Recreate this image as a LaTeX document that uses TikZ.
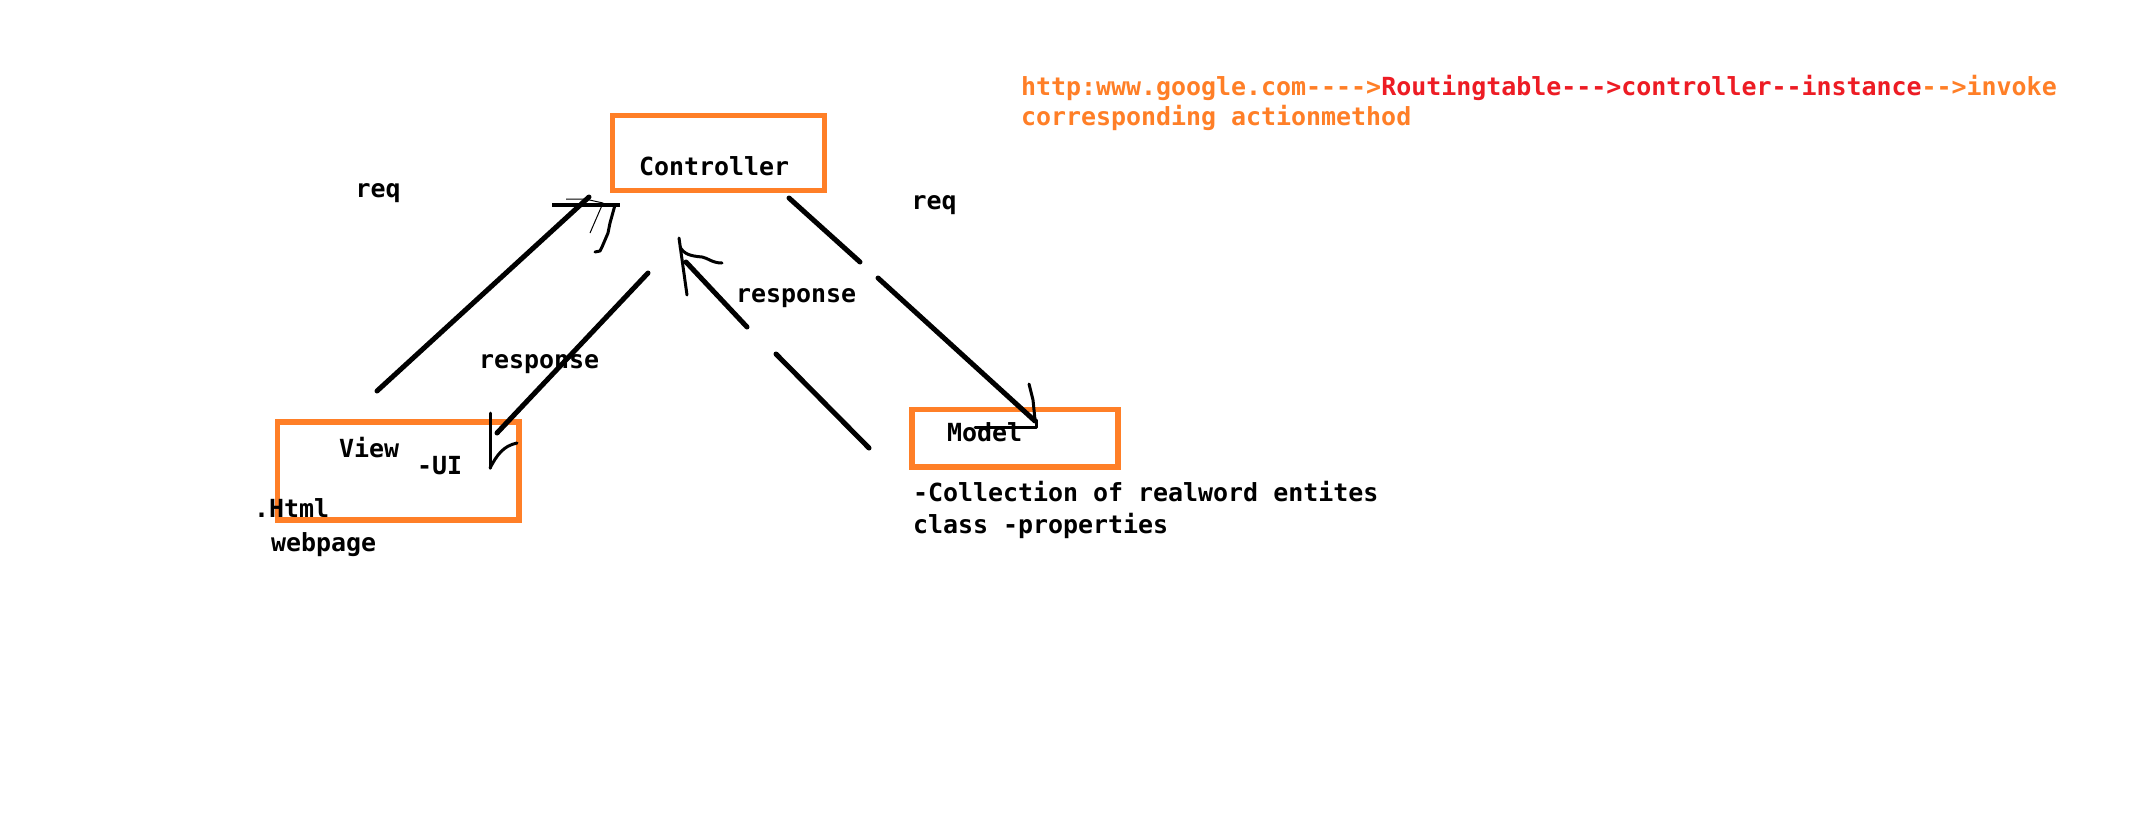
\documentclass[tikz,border=0pt]{standalone}
\usepackage{fontspec}
\newfontfamily\consol{DejaVu Sans Mono}[Ligatures=TeXOff]
\definecolor{paintorange}{RGB}{255,127,39}
\definecolor{paintred}{RGB}{237,28,36}
\begin{document}
\begin{tikzpicture}[x=0.01cm,y=-0.01cm,
  lbl/.style={font=\consol\bfseries\fontsize{7.09pt}{8.5pt}\selectfont, inner sep=0pt, outer sep=0pt, anchor=base west},
  box/.style={draw=paintorange, line width=0.055cm, inner sep=0pt, outer sep=0pt, rectangle},
  stroke/.style={line width=0.05cm, line cap=round},
  pen/.style={line width=0.03cm, line cap=round, line join=round},
  hair/.style={line width=0.01cm, line join=round}]
\useasboundingbox (0,0) rectangle (2131,839);
\fill[white] (0,0) rectangle (2131,839);

% boxes
\node[box, minimum width=2.12cm, minimum height=0.75cm] (ctrlbox) at (718.5,153) {};
\node[box, minimum width=2.415cm, minimum height=0.982cm] (viewbox) at (398.25,470.9) {};
\node[box, minimum width=2.06cm, minimum height=0.577cm] (modelbox) at (1014.8,438.3) {};

% texts
\node[lbl, text=paintorange] (url) at (1021,95) {http:www.google.com---->\textcolor{paintred}{Routingtable--->controller--instance}-->invoke};
\node[lbl, text=paintorange] (url2) at (1021,125) {corresponding actionmethod};
\node[lbl] (ctrltxt) at (639,175) {Controller};
\node[lbl] (reqL) at (355.5,197) {req};
\node[lbl] (reqR) at (911.5,209) {req};
\node[lbl] (respL) at (479,368) {response};
\node[lbl] (respR) at (736,302) {response};
\node[lbl] (viewtxt) at (339,457) {View};
\node[lbl] (uitxt) at (417,474) {-UI};
\node[lbl] (htmltxt) at (254,517) {.Html};
\node[lbl] (webtxt) at (271,551) {webpage};
\node[lbl] (modeltxt) at (947,441.5) {Model};
\node[lbl] (desc1) at (913,501) {-Collection of realword entites};
\node[lbl] (desc2) at (913,533.5) {class -properties};

% connector endpoints
\coordinate (aS) at (377,391);  \coordinate (aE) at (589,197);
\coordinate (bS) at (648,273);  \coordinate (bE) at (497,433);
\coordinate (cS) at (869,448);  \coordinate (cM1) at (776,354);
\coordinate (cM2) at (747,327); \coordinate (cE) at (686,262);
\coordinate (dS) at (789,198);  \coordinate (dM1) at (860,262);
\coordinate (dM2) at (878,278); \coordinate (dE) at (1035,421);

% req: View -> Controller
\draw[stroke] (aS) -- (aE);
\draw[line width=0.035cm] (552,205) -- (620,205);
\draw[pen] (615,205) -- (610,223) -- (608,233) -- (602,247) -- (600,251) -- (595,252);
\draw[hair] (566,199) -- (585,199) -- (603,203) -- (590,233);

% response: Controller -> View
\draw[stroke] (bS) -- (bE);
\draw[pen] (490,413) -- (490,468);
\draw[pen] (490,468) .. controls (497,455) and (503,446) .. (517,443);

% response: Model -> Controller
\draw[stroke] (cS) -- (cM1);
\draw[stroke] (cM2) -- (cE);
\draw[pen] (679,238) -- (687,295);
\draw[pen] (680,247) .. controls (684,254) and (690,256) .. (702,257) .. controls (708,258) and (712,263) .. (722,263);

% req: Controller -> Model
\draw[stroke] (dS) -- (dM1);
\draw[stroke] (dM2) -- (dE);
\draw[pen] (1029,384) -- (1033,400) -- (1035,420);
\draw[pen] (975,427) -- (1036,427) -- (1036,420);
\end{tikzpicture}
\end{document}
